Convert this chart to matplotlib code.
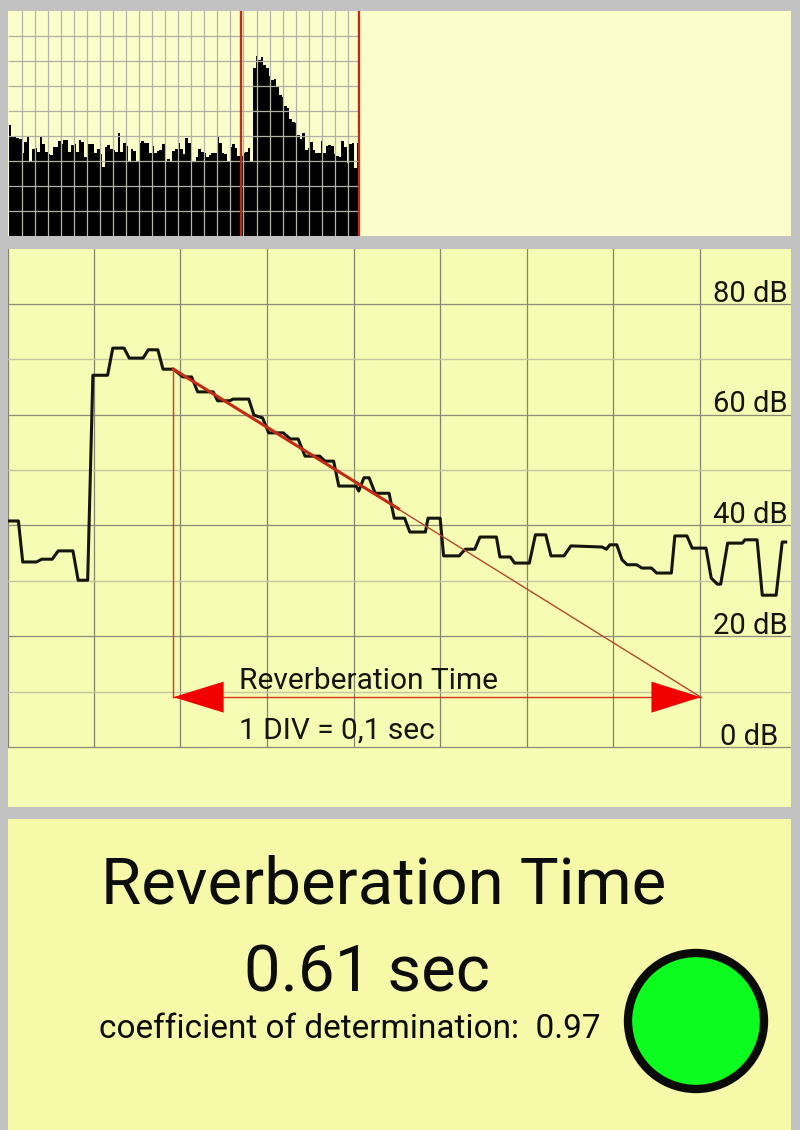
"""Reverberation time screen: spectrum strip, decay curve and result panel."""

import matplotlib

matplotlib.use("Agg")
import matplotlib.pyplot as plt
from matplotlib.patches import Circle

plt.rcParams["font.family"] = ["Roboto", "DejaVu Sans"]

# top strip, signal level per sample
strip_levels = [
    333, 298, 296, 293, 290, 250, 283, 298, 224, 260, 265, 253, 298, 276, 253,
    246, 243, 266, 266, 285, 276, 287, 288, 251, 272, 275, 251, 288, 283, 238,
    276, 277, 276, 250, 260, 245, 208, 268, 272, 261, 258, 253, 308, 253, 278,
    270, 226, 260, 256, 226, 280, 285, 280, 278, 250, 271, 250, 256, 258, 275,
    222, 232, 222, 256, 260, 280, 260, 246, 294, 280, 224, 224, 238, 260, 253,
    250, 238, 242, 250, 250, 298, 278, 250, 246, 224, 268, 275, 263, 241, 241,
    248, 251, 263, 224, 503, 541, 528, 538, 513, 503, 480, 468, 470, 446, 423,
    416, 390, 383, 350, 343, 340, 303, 290, 308, 258, 263, 283, 258, 248, 250,
    286, 250, 270, 272, 271, 246, 240, 238, 284, 268, 220, 276, 278, 205, 278,
]
window_marks = [89.6, 134.8]

# decay curve
curve_t = [
    0, .012, .017, .033, .039, .051, .058, .075, .081, .092, .098, .115, .121,
    .134, .140, .156, .162, .173, .179, .191, .202, .212, .219, .237, .242,
    .256, .260, .278, .284, .294, .301, .318, .326, .335, .343, .360, .366,
    .376, .382, .402, .405, .411, .417, .424, .440, .446, .458, .464, .482,
    .485, .499, .503, .521, .528, .539, .545, .564, .568, .580, .585, .602,
    .609, .621, .627, .642, .650, .686, .691, .695, .703, .709, .715, .726,
    .732, .743, .749, .766, .770, .784, .790, .806, .812, .819, .823, .831,
    .848, .851, .865, .871, .887, .894, .898,
]
curve_db = [
    40.8, 40.8, 33.4, 33.4, 33.9, 33.9, 35.4, 35.4, 30.1, 30.1, 67.1, 67.1,
    72.0, 72.0, 70.2, 70.2, 71.7, 71.7, 68.2, 68.2, 66.8, 66.8, 64.1, 64.1,
    62.5, 62.5, 62.8, 62.8, 59.9, 59.4, 56.7, 56.7, 55.6, 55.6, 52.5, 52.5,
    51.6, 51.6, 47.1, 47.1, 46.2, 48.6, 48.6, 45.8, 45.8, 41.3, 41.3, 38.8,
    38.8, 41.3, 41.3, 34.5, 34.5, 35.7, 35.7, 37.9, 37.9, 34.3, 34.3, 33.2,
    33.2, 38.3, 38.3, 34.5, 34.5, 36.3, 36.1, 35.7, 36.5, 36.5, 33.8, 32.9,
    32.9, 32.3, 32.3, 31.4, 31.4, 38.1, 38.1, 35.9, 35.9, 30.5, 29.4, 29.4,
    36.8, 36.8, 37.4, 37.4, 27.4, 27.4, 37.0, 37.0,
]
fit_t = [0.191, 0.800]
fit_db = [68.2, 9.0]
fit_thick_end = [0.451, 43.0]
db_ticks = [0, 20, 40, 60, 80]
db_tick_labels = ["0 dB", "20 dB", "40 dB", "60 dB", "80 dB"]

# result panel
result_title = "Reverberation Time"
result_value = "0.61 sec"
result_note = "coefficient of determination:  0.97"

W, H = 800, 1130
PANEL_L, PANEL_R = 8, 791
DARK_RED = "#b5301c"


def panel(top, bottom, color):
    ax = fig.add_axes([PANEL_L / W, 1 - bottom / H, (PANEL_R - PANEL_L) / W, (bottom - top) / H])
    ax.set_facecolor(color)
    ax.set_xticks([])
    ax.set_yticks([])
    for spine in ax.spines.values():
        spine.set_visible(False)
    return ax


fig = plt.figure(figsize=(W / 100, H / 100), dpi=100, facecolor="#c2c2c2")

# --- top strip ---
ax1 = panel(11, 236, "#fbfdcb")
ax1.set_xlim(-0.2, (PANEL_R - PANEL_L) / 2.6 - 0.2)
ax1.set_ylim(0, 675)
ax1.bar(range(len(strip_levels)), strip_levels, width=1.0, align="edge", color="black", lw=0, zorder=1)
for k in range(1, 27):
    ax1.plot([k * 5.02] * 2, [0, 675], color="#b4b4a8", lw=0.9, zorder=2)
for k in range(1, 9):
    ax1.plot([0, 134.8], [k * 75] * 2, color="#b0b0a4", lw=0.9, zorder=2)
for m in window_marks:
    ax1.plot([m, m], [0, 675], color=DARK_RED, lw=1.7, zorder=3)

# --- decay curve ---
ax2 = panel(249, 807, "#f7fcb4")
ax2.set_xlim(0, (PANEL_R - PANEL_L) / 866)
ax2.set_ylim((747 - 807) / 5.54, (747 - 249) / 5.54)
for k in range(1, 9):
    ax2.plot([k * 0.1 - 0.001] * 2, [0, (747 - 249) / 5.54], color="#84846c", lw=0.9, zorder=1)
ax2.plot([0, 0], [0, (747 - 249) / 5.54], color="#84846c", lw=0.9, zorder=1)
for db in range(0, 90, 10):
    major = db % 20 == 0
    ax2.plot(ax2.get_xlim(), [db, db], color="#8c8c78" if major else "#c4c6a0",
             lw=0.9 if major else 1.0, zorder=1)

ax2.plot(curve_t, curve_db, color="#14160c", lw=2.2, solid_joinstyle="round", zorder=3)

# regression line, heavy over the fitted part
ax2.plot(fit_t, fit_db, color="#b0482c", lw=1.0, zorder=4)
ax2.plot([fit_t[0], fit_thick_end[0]], [fit_db[0], fit_thick_end[1]], color="#c42a14", lw=2.2, zorder=4)

# reverberation span
ax2.plot([fit_t[0], fit_t[0]], [fit_db[1], fit_db[0]], color="#e0341c", lw=1.0, zorder=4)
ax2.plot(fit_t, [fit_db[1], fit_db[1]], color="#d8301c", lw=1.0, zorder=4)
ax2.fill([fit_t[0], fit_t[0] + 0.058, fit_t[0] + 0.058], [fit_db[1], fit_db[1] + 2.8, fit_db[1] - 2.8],
         color="#f00000", lw=0, zorder=5)
ax2.fill([fit_t[1], fit_t[1] - 0.057, fit_t[1] - 0.057], [fit_db[1], fit_db[1] + 2.8, fit_db[1] - 2.8],
         color="#f00000", lw=0, zorder=5)

for db, label in zip(db_ticks, db_tick_labels):
    x = 0.889 if db == 0 else 0.9
    ax2.text(x, db + 1.85, label, ha="right", va="center", fontsize=21, color="#14160c", zorder=6)
ax2.text(0.2665, 11.9, "Reverberation Time", ha="left", va="center", fontsize=21.5, color="#14160c", zorder=6)
ax2.text(0.2665, 3.0, "1 DIV = 0,1 sec", ha="left", va="center", fontsize=21.5, color="#14160c", zorder=6)

# --- result panel ---
ax3 = panel(819, 1130, "#f6f9a8")
ax3.set_xlim(PANEL_L, PANEL_R)
ax3.set_ylim(1130, 819)
ax3.text(384, 885, result_title, ha="center", va="center", fontsize=47, color="#0c0c08")
ax3.text(367, 973, result_value, ha="center", va="center", fontsize=47, color="#0c0c08")
ax3.text(350, 1029, result_note, ha="center", va="center", fontsize=24, color="#0c0c08")
ax3.add_patch(Circle((696, 1021), 68, facecolor="#0cfc20", edgecolor="#0a0a08", lw=6))

fig.savefig("out.png", dpi=100, facecolor=fig.get_facecolor())
plt.close(fig)
